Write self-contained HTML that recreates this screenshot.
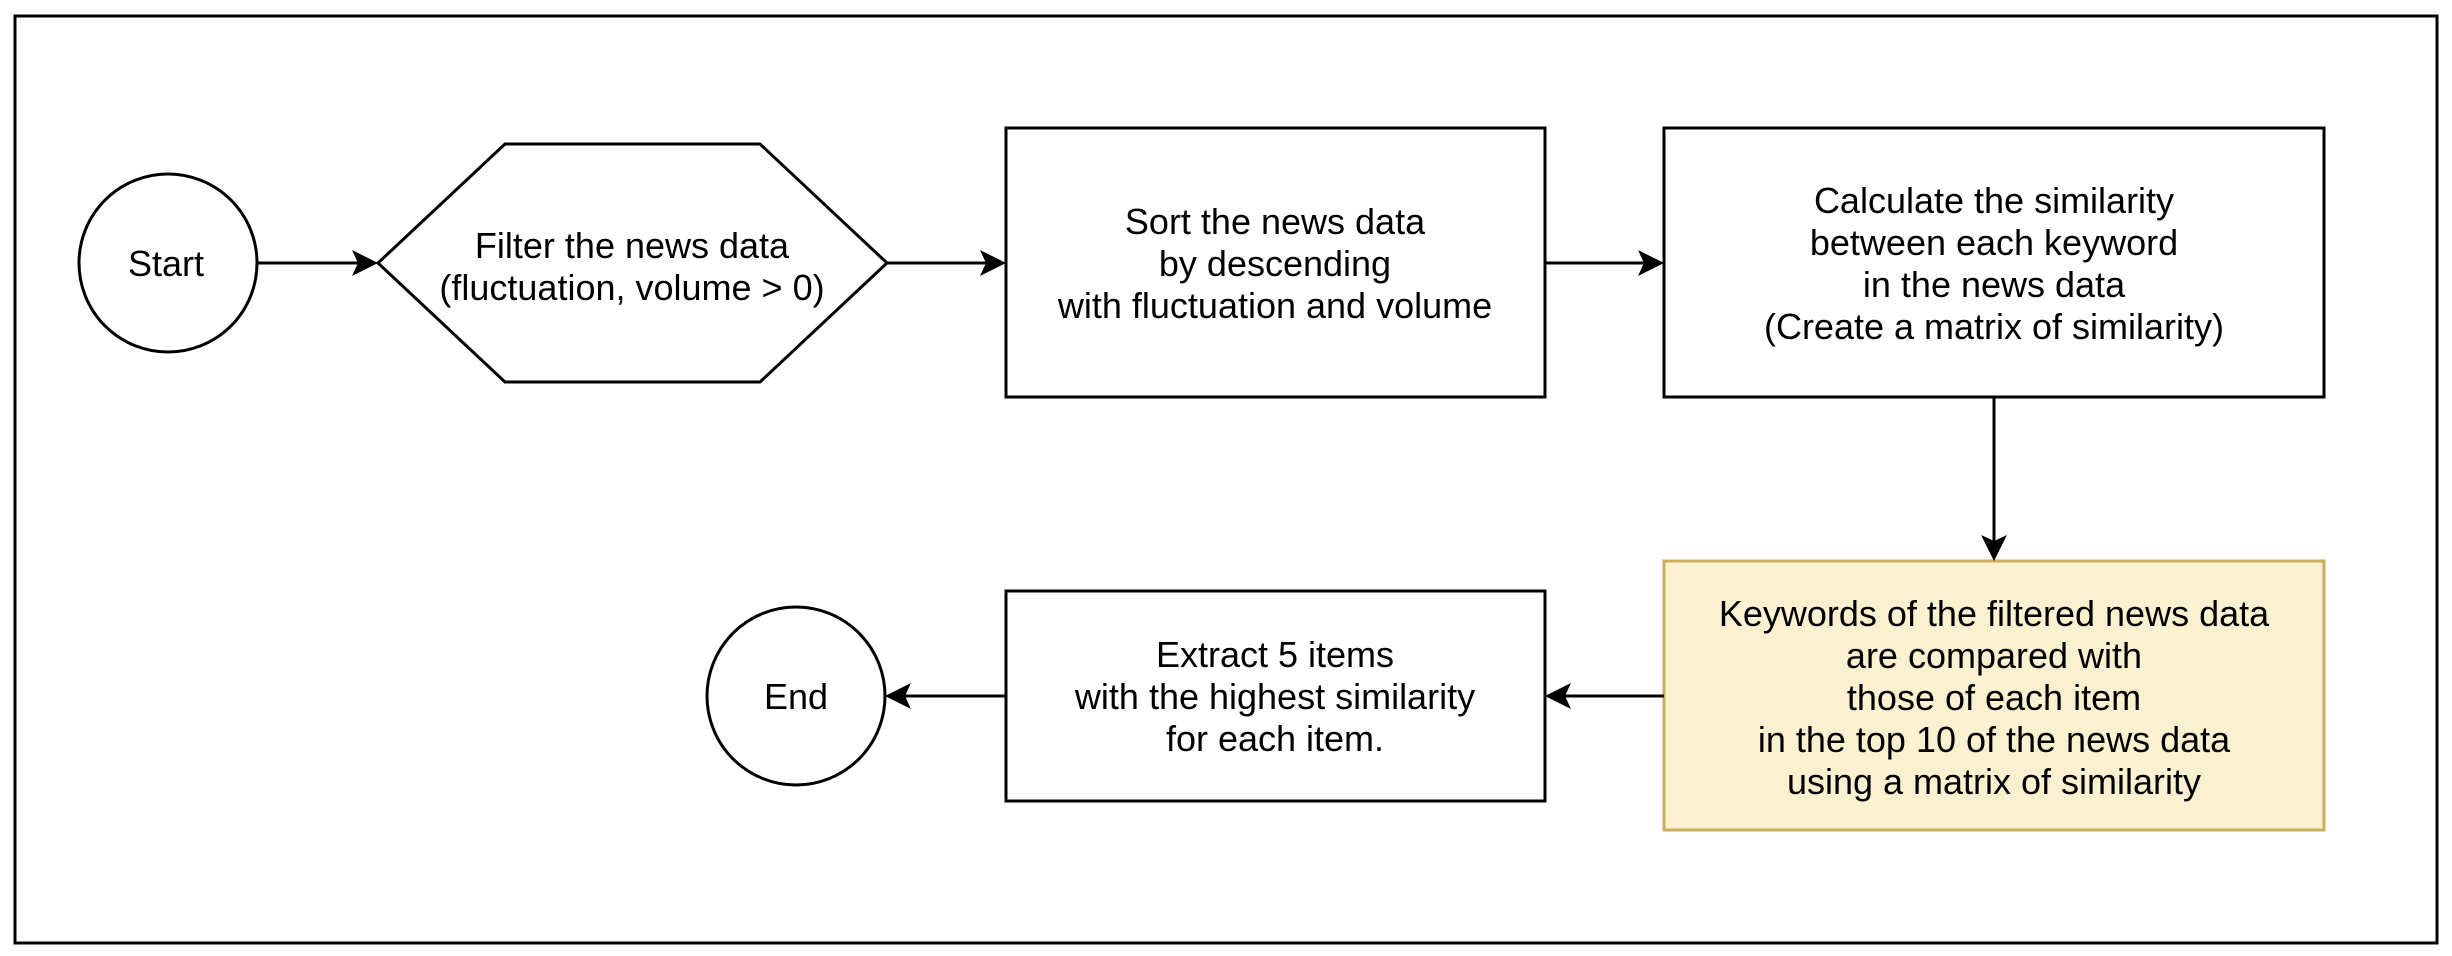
<!DOCTYPE html>
<html><head><meta charset="utf-8"><style>
html,body{margin:0;padding:0;background:#fff;}
svg{display:block;}
text{font-family:"Liberation Sans",Arial,sans-serif;font-size:36px;fill:#000;text-anchor:middle;}
</style></head><body>
<svg width="2452" height="956" viewBox="0 0 2452 956" xmlns="http://www.w3.org/2000/svg">
<rect x="15" y="16" width="2422" height="927" fill="#fff" stroke="#000" stroke-width="3"/>
<g fill="#fff" stroke="#000" stroke-width="3">
<ellipse cx="168" cy="263" rx="89" ry="89"/>
<polygon points="378,263 505,144 760,144 887,263 760,382 505,382"/>
<rect x="1006" y="128" width="539" height="269"/>
<rect x="1664" y="128" width="660" height="269"/>
<rect x="1664" y="561" width="660" height="269" fill="#fbf0cf" stroke="#c9ae5c"/>
<rect x="1006" y="591" width="539" height="210"/>
<ellipse cx="796" cy="696" rx="89" ry="89"/>
</g>
<g stroke="#000" stroke-width="3" fill="none">
<line x1="257" y1="263" x2="362" y2="263"/>
<line x1="887" y1="263" x2="990" y2="263"/>
<line x1="1545" y1="263" x2="1648" y2="263"/>
<line x1="1994" y1="397" x2="1994" y2="545"/>
<line x1="1664" y1="696" x2="1561" y2="696"/>
<line x1="1006" y1="696" x2="901" y2="696"/>
</g>
<g fill="#000">
<polygon points="378,263 352,250 358,263 352,276"/>
<polygon points="1006,263 980,250 986,263 980,276"/>
<polygon points="1664,263 1638,250 1644,263 1638,276"/>
<polygon points="1994,561 1981,535 1994,541 2007,535"/>
<polygon points="1545,696 1571,683 1565,696 1571,709"/>
<polygon points="885,696 911,683 905,696 911,709"/>
</g>
<text x="166" y="276">Start</text>
<text x="632" y="258">Filter the news data</text>
<text x="632" y="300">(fluctuation, volume &gt; 0)</text>
<text x="1275" y="234">Sort the news data</text>
<text x="1275" y="276">by descending</text>
<text x="1275" y="318">with fluctuation and volume</text>
<text x="1994" y="213">Calculate the similarity</text>
<text x="1994" y="255">between each keyword</text>
<text x="1994" y="297">in the news data</text>
<text x="1994" y="339">(Create a matrix of similarity)</text>
<text x="1994" y="626">Keywords of the filtered news data</text>
<text x="1994" y="668">are compared with</text>
<text x="1994" y="710">those of each item</text>
<text x="1994" y="752">in the top 10 of the news data</text>
<text x="1994" y="794">using a matrix of similarity</text>
<text x="1275" y="667">Extract 5 items</text>
<text x="1275" y="709">with the highest similarity</text>
<text x="1275" y="751">for each item.</text>
<text x="796" y="709">End</text>
</svg>
</body></html>
